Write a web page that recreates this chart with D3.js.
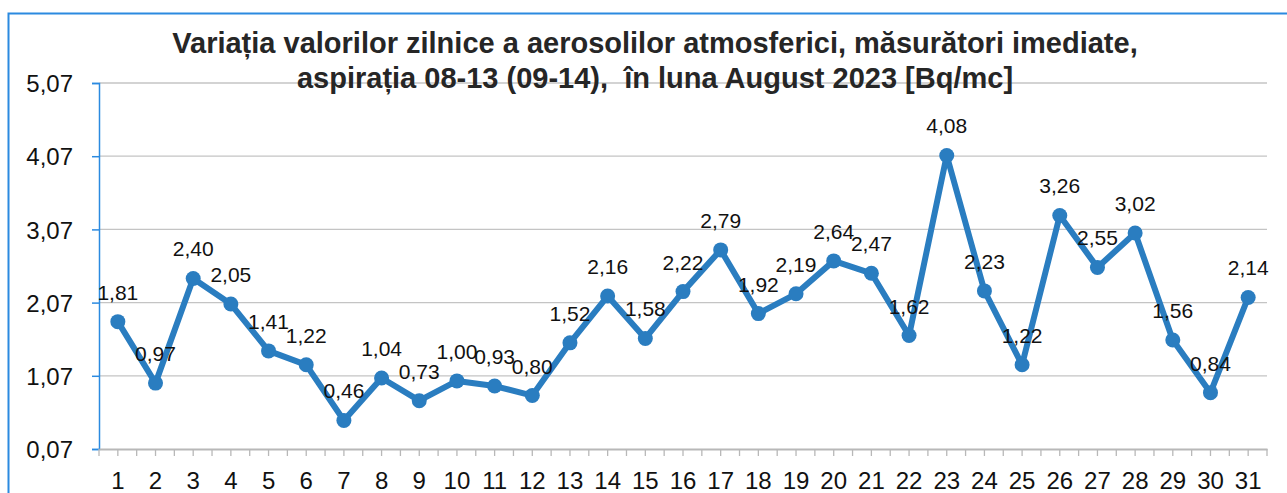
<!DOCTYPE html>
<html>
<head>
<meta charset="utf-8">
<script src="https://cdn.jsdelivr.net/npm/d3@7"></script>
<style>
  body { margin: 0; background: #fff; }
  text { font-family: "Liberation Sans", Arial, sans-serif; }
</style>
</head>
<body>
<div id="chart"></div>
<script>
// days of August 2023
var days = d3.range(1, 32).map(String);
// daily aerosol values [Bq/mc]
var values = [1.81, 0.97, 2.40, 2.05, 1.41, 1.22, 0.46, 1.04, 0.73, 1.00,
              0.93, 0.80, 1.52, 2.16, 1.58, 2.22, 2.79, 1.92, 2.19, 2.64,
              2.47, 1.62, 4.08, 2.23, 1.22, 3.26, 2.55, 3.02, 1.56, 0.84, 2.14];
var yTicks = [0.07, 1.07, 2.07, 3.07, 4.07, 5.07];
var titleLines = [
  "Variația valorilor zilnice a aerosolilor atmosferici, măsurători imediate,",
  "aspirația 08-13 (09-14),  în luna August 2023 [Bq/mc]"
];

var width = 1287, height = 493;
var plotLeft = 99, plotRight = 1267, plotTop = 83, plotBottom = 449;
var fmt = function(v) { return v.toFixed(2).replace(".", ","); };

var svg = d3.select("#chart").append("svg")
  .attr("width", width)
  .attr("height", height);

var x = d3.scaleBand().domain(days).range([plotLeft, plotRight]);
var y = d3.scaleLinear().domain([0.07, 5.07]).range([plotBottom, plotTop]);
var cx = function(i) { return x(days[i]) + x.bandwidth() / 2; };

// outer frame (left and top edges visible)
svg.append("path")
  .attr("d", "M8.5," + height + "V13.5H" + width)
  .attr("fill", "none")
  .attr("stroke", "#2b8ae0")
  .attr("stroke-width", 2);

// gridlines
svg.append("g")
  .selectAll("line")
  .data(yTicks.slice(1))
  .enter().append("line")
  .attr("x1", plotLeft).attr("x2", plotRight)
  .attr("y1", function(d) { return y(d); })
  .attr("y2", function(d) { return y(d); })
  .attr("stroke", "#c4c4c4")
  .attr("stroke-width", 1.3);

// y axis
var yAxis = svg.append("g")
  .attr("transform", "translate(" + plotLeft + ",0)")
  .call(d3.axisLeft(y).tickValues(yTicks).tickSize(7).tickPadding(19).tickFormat(fmt));
yAxis.select(".domain").attr("stroke", "#2b8ae0").attr("stroke-width", 1.5);
yAxis.selectAll(".tick line").attr("stroke", "#2b8ae0").attr("stroke-width", 1.5);
yAxis.selectAll("text")
  .attr("font-size", 24)
  .attr("fill", "#111")
  .attr("dy", "0.36em");

// x axis
var xAxis = svg.append("g")
  .attr("transform", "translate(0," + plotBottom + ")")
  .call(d3.axisBottom(x).tickSize(0).tickPadding(23));
xAxis.select(".domain").attr("stroke", "#b8b8b8").attr("stroke-width", 2);
xAxis.selectAll("text")
  .attr("font-size", 24)
  .attr("fill", "#111")
  .attr("dy", "0.71em");

// small ticks at category centres and boundaries
var tickXs = d3.range(0, 31).map(cx)
  .concat(d3.range(0, 32).map(function(i) { return plotLeft + i * x.step(); }));
svg.append("g")
  .selectAll("line")
  .data(tickXs)
  .enter().append("line")
  .attr("x1", function(d) { return d; })
  .attr("x2", function(d) { return d; })
  .attr("y1", plotBottom)
  .attr("y2", plotBottom + 7)
  .attr("stroke", "#b8b8b8")
  .attr("stroke-width", 1.3);

// line + markers
var line = d3.line()
  .x(function(d, i) { return cx(i); })
  .y(function(d) { return y(d); });

svg.append("path")
  .datum(values)
  .attr("d", line)
  .attr("fill", "none")
  .attr("stroke", "#2a7dc0")
  .attr("stroke-width", 6)
  .attr("stroke-linejoin", "round");

svg.append("g")
  .selectAll("circle")
  .data(values)
  .enter().append("circle")
  .attr("cx", function(d, i) { return cx(i); })
  .attr("cy", function(d) { return y(d); })
  .attr("r", 7.5)
  .attr("fill", "#2a7dc0");

// data labels
svg.append("g")
  .selectAll("text")
  .data(values)
  .enter().append("text")
  .attr("x", function(d, i) { return cx(i); })
  .attr("y", function(d) { return y(d) - 22; })
  .attr("text-anchor", "middle")
  .attr("font-size", 21)
  .attr("fill", "#111")
  .text(fmt);

// title
svg.append("g")
  .selectAll("text")
  .data(titleLines)
  .enter().append("text")
  .attr("x", 655)
  .attr("y", function(d, i) { return 53 + i * 35; })
  .attr("text-anchor", "middle")
  .attr("font-size", 29)
  .attr("font-weight", "bold")
  .attr("fill", "#262626")
  .style("white-space", "pre")
  .text(function(d) { return d; });
</script>
</body>
</html>
